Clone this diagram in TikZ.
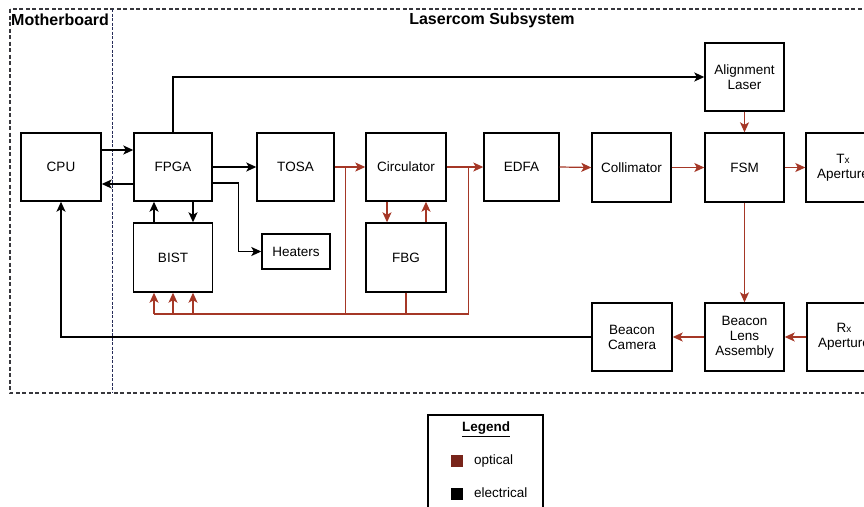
\documentclass[tikz,border=0pt]{standalone}
\usepackage{fontspec}
\setmainfont{Liberation Sans}
\usetikzlibrary{arrows.meta,calc}
\definecolor{optred}{RGB}{165,55,38}
\definecolor{legred}{RGB}{120,36,26}
\definecolor{framegray}{RGB}{55,55,60}
\definecolor{divblue}{RGB}{40,45,90}

\begin{document}
\begin{tikzpicture}[x=1pt,y=-1pt,
  box/.style={draw=black, line width=1.4pt, fill=white, align=center, inner sep=0pt,
    font=\fontsize{13.5}{15}\selectfont, minimum width=79pt, minimum height=68pt},
  smallbox/.style={box, minimum width=68pt, minimum height=35pt},
  elec/.style={draw=black, line width=1.4pt, -{Stealth[length=10pt,width=9pt,inset=2.5pt]}},
  opt/.style={draw=optred, line width=1.2pt, -{Stealth[length=10pt,width=9pt,inset=2.5pt]}},
  optline/.style={draw=optred, line width=1.2pt},
  title/.style={font=\bfseries\fontsize{16}{18}\selectfont, inner sep=0pt},
  legtext/.style={font=\fontsize{13.5}{15}\selectfont, anchor=west, inner sep=0pt},
]
\useasboundingbox (0,0) rectangle (864,506);
\clip (0,0) rectangle (864,506);

% subsystem frames
\draw[framegray, line width=1.3pt, dash pattern=on 4pt off 2.5pt] (10,9) rectangle (900,393);
\draw[divblue, line width=0.7pt, dash pattern=on 3pt off 1.5pt] (112,9) -- (112,393);
\node[title, anchor=west] (mbtitle) at (11,20) {Motherboard};
\node[title] (lctitle) at (492,20) {Lasercom Subsystem};

% blocks
\node[box, minimum width=80pt] (cpu) at (61,167) {CPU};
\node[box, minimum width=78pt] (fpga) at (173,167) {FPGA};
\node[box, minimum width=77pt] (tosa) at (295.5,167) {TOSA};
\node[box, minimum width=80pt] (circ) at (406,167) {Circulator};
\node[box, minimum width=75pt] (edfa) at (521.5,167) {EDFA};
\node[box, minimum height=69pt] (coll) at (631.5,167.5) {Collimator};
\node[box, minimum height=69pt] (fsm) at (744.5,167.5) {FSM};
\node[box] (align) at (744.5,77) {Alignment\\Laser};
\node[box, minimum width=74pt, minimum height=69pt] (tx) at (843,167.5) {T{\fontsize{10}{11}\selectfont x}\\Aperture};
\node[box, minimum height=69pt] (bist) at (173,257.5) {BIST};
\node[smallbox] (heaters) at (296,251.5) {Heaters};
\node[box, minimum width=80pt, minimum height=69pt] (fbg) at (406,257.5) {FBG};
\node[box, minimum width=80pt] (bcam) at (632,337) {Beacon\\Camera};
\node[box] (blens) at (744.5,337) {Beacon\\Lens\\Assembly};
\node[box, minimum width=74pt] (rx) at (844,337) {R{\fontsize{10}{11}\selectfont x}\\Aperture};

% electrical links
\draw[elec] ([yshift=17pt]cpu.east) -- ([yshift=17pt]fpga.west);
\draw[elec] ([yshift=-17pt]fpga.west) -- ([yshift=-17pt]cpu.east);
\draw[elec] (fpga.north) |- (align.west);
\draw[elec] (fpga.east) -- (tosa.west);
\draw[elec] ([yshift=-16pt]fpga.east) -- ++(26,0) |- (heaters.west);
\draw[elec] ([xshift=-19pt]fpga.south |- bist.north) -- ([xshift=-19pt]fpga.south);
\draw[elec] ([xshift=20pt]fpga.south) -- ([xshift=20pt]fpga.south |- bist.north);
\draw[elec] (bcam.west) -| (cpu.south);

% optical links
\draw[opt] (tosa.east) -- (circ.west);
\draw[opt] (circ.east) -- (edfa.west);
\draw[opt] (edfa.east) -- (coll.west);
\draw[opt] (coll.east) -- (fsm.west);
\draw[opt] (fsm.east) -- (tx.west);
\draw[opt] (align.south) -- (fsm.north);
\draw[opt] (fsm.south) -- (blens.north);
\draw[opt] (rx.west) -- (blens.east);
\draw[opt] (blens.west) -- (bcam.east);
\draw[opt] ([xshift=-19pt]circ.south) -- ([xshift=-19pt]circ.south |- fbg.north);
\draw[opt] ([xshift=20pt]circ.south |- fbg.north) -- ([xshift=20pt]circ.south);

% optical monitoring bus into BIST
\coordinate (tapA) at ($(tosa.east)!0.34!(circ.west)$);
\coordinate (tapB) at ($(circ.east)!0.6!(edfa.west)$);
\coordinate (bus) at (0,314);
\draw[optline] (tapA) -- (tapA |- bus);
\draw[optline] (fbg.south) -- (fbg.south |- bus);
\draw[optline] (tapB) |- ([xshift=-19pt]bist.south |- bus);
\foreach \s in {-19,0,20}
  \draw[opt] ([xshift=\s pt]bist.south |- bus) -- ([xshift=\s pt]bist.south);

% legend
\draw[black, line width=1.4pt] (428,415) rectangle (543,530);
\node[font=\bfseries\fontsize{13.5}{15}\selectfont, inner sep=0pt] (legtitle) at (486,429) {\underline{Legend}};
\node[fill=legred, minimum size=12pt, inner sep=0pt] (optsq) at (457,461) {};
\node[legtext] (opttxt) at (474,461) {optical};
\node[fill=black, minimum size=12pt, inner sep=0pt] (elsq) at (457,494) {};
\node[legtext] (eltxt) at (474,493) {electrical};
\end{tikzpicture}
\end{document}
